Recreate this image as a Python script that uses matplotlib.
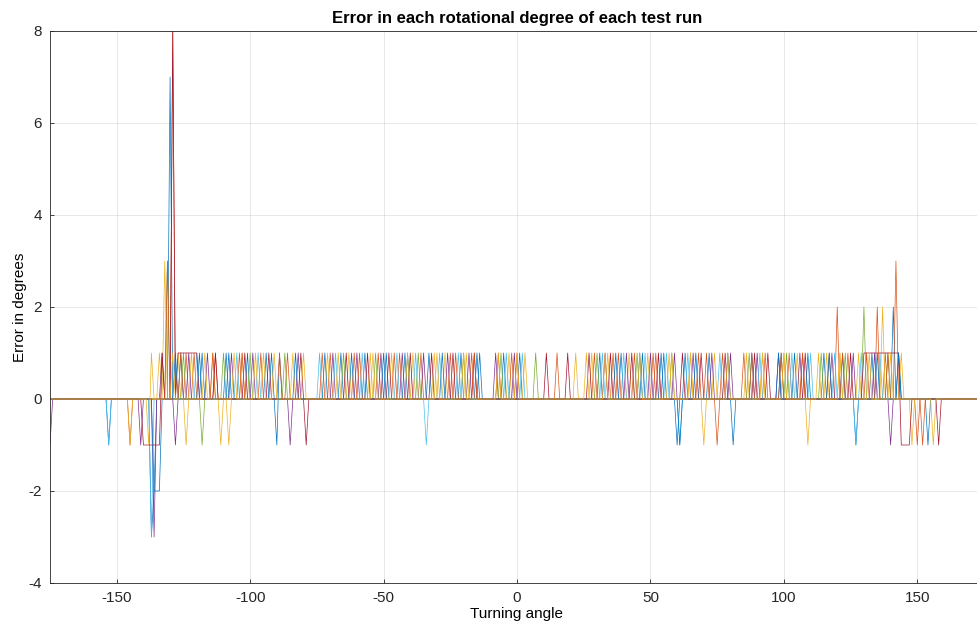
import matplotlib
matplotlib.use("Agg")
import matplotlib.pyplot as plt
import numpy as np

plt.rcParams['font.family'] = ['Liberation Sans', 'DejaVu Sans']
plt.rcParams['axes.unicode_minus'] = False

# turning angles sampled every degree
angle_min = -175
angle_max = 175

# for every test run: angles where the error is +1, plus the other non-zero errors
up1 = [-126, -118, -109, -101, -94, -89, -66, -57, -49, -41, -33, -21, -15, -5, 1,
       31, 39, 46, 55, 63, 72, 79, 88, 99, 104, 115, 122, 133, 143]
other1 = {-153: -1, -137: -3, -136: -2, -130: 7, -90: -1, 60: -1, 81: -1, 127: -1,
          141: 2, 154: -1}

up2 = [-124, -121, -113, -104, -96, -86, -70, -61, -52, -44, -36, -23, -17, -7, 0,
       15, 29, 36, 44, 52, 68, 77, 85, 93, 102, 107, 117, 124, 131, 138]
other2 = {-145: -1, -129: 8, 75: -1, 120: 2, 142: 3, 150: -1}

up3 = [-134, -127, -122, -114, -103, -95, -84, -71, -63, -55, -47, -39, -31, -27,
       -19, -3, 3, 22, 28, 34, 42, 49, 57, 65, 74, 86, 92, 100, 105, 116, 121, 128, 144]
other3 = {-145: -1, -132: 3, -124: -1, -111: -1, -108: -1, 70: -1, 109: -1,
          137: 2, 148: -1}

up4 = [-133, -123, -116, -107, -99, -82, -69, -60, -51, -43, -35, -26, -18, -8, -1,
       33, 41, 50, 59, 66, 73, 80, 90, 98, 106, 118, 126, 134]
other4 = {-175: -1, -141: -1, -136: -3, -128: -1, -85: -1, 140: -1}

up5 = [-125, -110, -100, -87, -65, -53, -37, -20, -6, 7, 30, 45, 58, 87, 101, 114,
       123, 139]
other5 = {-131: 3, -118: -1, 130: 2}

up6 = [-120, -105, -97, -74, -68, -58, -45, -38, -29, -22, -4, 2, 32, 40, 48, 56, 64,
       76, 91, 103, 110, 119, 129, 136]
other6 = {-153: -1, -137: -3, -34: -1, 61: -1, 127: -1}

up7 = [-133, -127, -126, -125, -124, -123, -122, -121, -120, -113, -102, -93, -81,
       -64, -56, -48, -40, -32, -24, -16, 11, 19, 27, 35, 43, 53, 62, 69, 78, 89, 94,
       108, 125, 130, 131, 132, 133, 134, 135, 136, 137, 138, 139, 140, 141, 142, 143]
other7 = {-140: -1, -139: -1, -138: -1, -137: -1, -136: -1, -135: -1, -134: -1,
          -129: 8, -79: -1, 144: -1, 145: -1, 146: -1, 147: -1, 158: -1}

up8 = [-128, -119, -108, -92, -83, -72, -62, -50, -42, -28, -14, 37, 47, 54, 67, 98,
       109, 117, 135, 143]
other8 = {-136: -2, -135: -2, -134: -2, 61: -1}

up9 = [-126, -114, -103, -89, -73, -59, -46, -25, -16, -2, 38, 51, 71, 88, 99, 107,
       122, 139]
other9 = {-131: 3, 135: 2, 152: -1}

up10 = [-137, -129, -117, -106, -98, -91, -80, -67, -54, -41, -30, -20, -7, 0, 26, 33,
        46, 58, 65, 79, 92, 100, 113, 121, 132, 140]
other10 = {-138: -1, 156: -1}

runs = [(up1, other1), (up2, other2), (up3, other3), (up4, other4), (up5, other5),
        (up6, other6), (up7, other7), (up8, other8), (up9, other9), (up10, other10)]

colors = ['#0072BD', '#D95319', '#EDB120', '#7E2F8E', '#77AC30',
          '#4DBEEE', '#A2142F']

angles = np.arange(angle_min, angle_max + 1)

fig = plt.figure(figsize=(9.77, 6.24), dpi=100)
ax = fig.add_axes([50 / 977, 41 / 624, 934 / 977, 552 / 624])

for k, (ups, others) in enumerate(runs):
    err = np.zeros(len(angles))
    for a in ups:
        err[a - angle_min] = 1
    for a, v in others.items():
        err[a - angle_min] = v
    ax.plot(angles, err, color=colors[k % len(colors)], lw=0.5)

ax.set_xlim(angle_min, angle_max)
ax.set_ylim(-4, 8)
ax.set_xticks([-150, -100, -50, 0, 50, 100, 150])
ax.set_yticks([-4, -2, 0, 2, 4, 6, 8])
ax.grid(True, color='#262626', alpha=0.12, lw=0.6)
ax.set_axisbelow(True)
for s in ax.spines.values():
    s.set_color('#262626')
    s.set_linewidth(0.6)
ax.tick_params(direction='in', length=3, width=0.6, colors='#262626',
               labelsize=11, pad=6, top=False, right=False)

ax.set_title('Error in each rotational degree of each test run', fontsize=12,
             fontweight='bold', pad=6)
ax.set_xlabel('Turning angle', fontsize=11, labelpad=1)
ax.set_ylabel('Error in degrees', fontsize=11, labelpad=1)

fig.savefig('out.png', dpi=100)
